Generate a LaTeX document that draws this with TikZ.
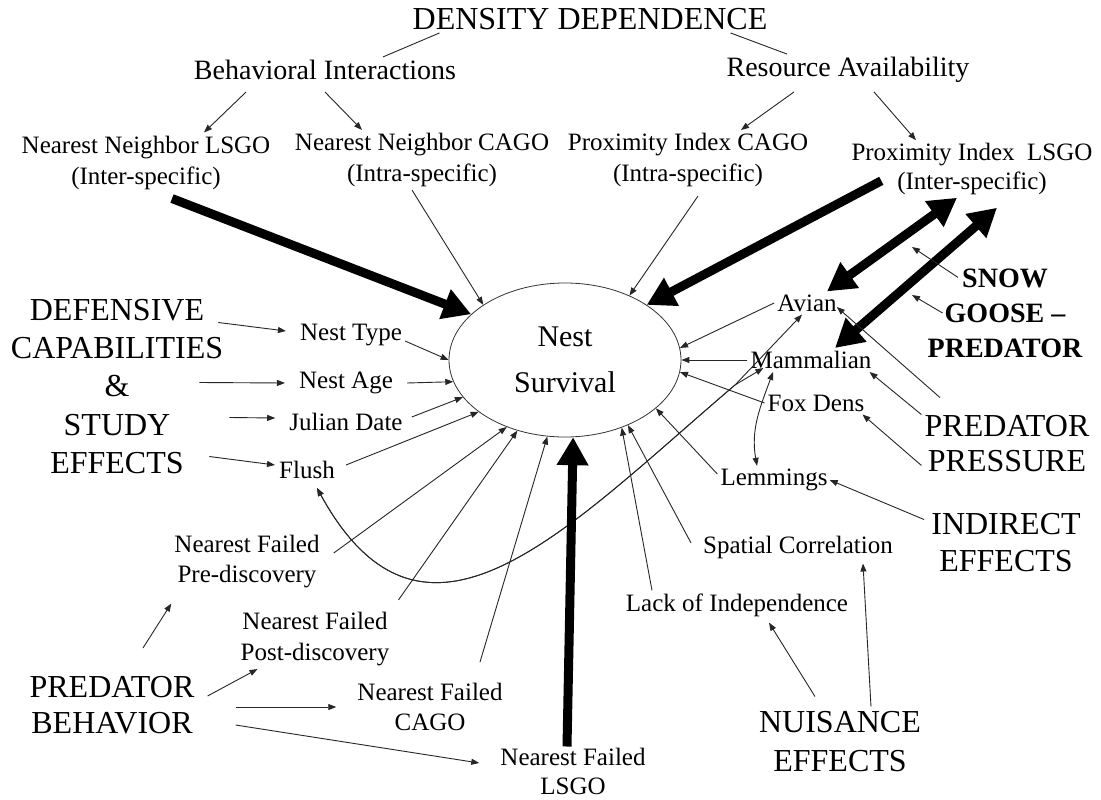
\documentclass[tikz,border=0pt]{standalone}
\usepackage{fontspec}
\setmainfont{Liberation Serif}
\usetikzlibrary{arrows.meta,shapes.geometric}
\begin{document}
\begin{tikzpicture}[x=1pt,y=-1pt,
  every node/.style={inner sep=3pt,align=center,text=black},
  capsA/.style={font=\fontsize{32}{37}\selectfont},
  medB/.style={font=\fontsize{28}{34}\selectfont},
  smlC/.style={font=\fontsize{25}{31}\selectfont},
  thinline/.style={line width=0.9pt,draw=black!85},
  thinarr/.style={thinline,-{Triangle[length=8pt,width=6pt]}},
  thinboth/.style={thinline,{Triangle[length=8pt,width=6pt]}-{Triangle[length=8pt,width=6pt]}},
  bigarrow/.style={line width=9pt,-{Triangle[length=28pt,width=30pt]}},
  bigboth/.style={line width=9pt,{Triangle[length=28pt,width=30pt]}-{Triangle[length=28pt,width=30pt]}}
]
\useasboundingbox (0,0) rectangle (1101,800);
\fill[white] (0,0) rectangle (1101,800);

% ---------- nodes ----------
\node[capsA] (dd) at (590,19) {DENSITY DEPENDENCE};
\node[medB] (bi) at (325,70) {Behavioral Interactions};
\node[medB] (ra) at (848,70) {Resource Availability};
\node[smlC] (nnl) at (146,162.5) {Nearest Neighbor LSGO\\(Inter-specific)};
\node[smlC] (nnc) at (422,160) {Nearest Neighbor CAGO\\(Intra-specific)};
\node[smlC] (pic) at (688,160) {Proximity Index CAGO\\(Intra-specific)};
\node[font=\fontsize{25}{28.5}\selectfont] (pil) at (972,169) {Proximity Index\ \ LSGO\\(Inter-specific)};

\node[draw=black!80,line width=0.8pt,ellipse,minimum width=232pt,minimum height=154pt,inner sep=0pt,
      font=\fontsize{30}{46}\selectfont] (ns) at (565,360) {Nest\\Survival};

\node[font=\fontsize{32}{38.3}\selectfont] (def) at (117,386.5) {DEFENSIVE\\CAPABILITIES\\\&\\STUDY\\EFFECTS};
\node[smlC] (ntype) at (351,335) {Nest Type};
\node[smlC] (nage) at (346,383) {Nest Age};
\node[smlC] (jdate) at (346,422) {Julian Date};
\node[smlC] (flush) at (307,470) {Flush};

\node[font=\fontsize{25}{30}\selectfont] (nfpre) at (247,562) {Nearest Failed\\Pre-discovery};
\node[smlC] (nfpost) at (315,639) {Nearest Failed\\Post-discovery};
\node[font=\fontsize{25}{30}\selectfont] (nfcago) at (430,707) {Nearest Failed\\CAGO};
\node[font=\fontsize{25}{29}\selectfont] (nflsgo) at (573,771) {Nearest Failed\\LSGO};
\node[font=\fontsize{32}{36}\selectfont] (pb) at (112,705) {PREDATOR\\BEHAVIOR};

\node[font=\fontsize{32}{39}\selectfont] (nuis) at (840,742) {NUISANCE\\EFFECTS};
\node[smlC] (loi) at (737,605) {Lack of Independence};
\node[smlC] (sc) at (798,547) {Spatial Correlation};
\node[smlC] (lem) at (774,480) {Lemmings};
\node[font=\fontsize{32}{37}\selectfont] (ie) at (1006,543) {INDIRECT\\EFFECTS};

\node[smlC] (avian) at (807,303) {Avian};
\node[smlC] (mamm) at (811,360) {Mammalian};
\node[smlC] (fox) at (816,403) {Fox Dens};
\node[font=\fontsize{28}{35}\selectfont\bfseries] (sg) at (1005,313) {SNOW\\GOOSE –\\PREDATOR};
\node[font=\fontsize{32}{35}\selectfont] (pp) at (1007,444) {PREDATOR\\PRESSURE};

\coordinate (sga) at (912,247);
\coordinate (sgb) at (912,295);
\coordinate (fk) at (735,385);

% ---------- top tree ----------
\draw[thinline] ([xshift=30pt]dd.south west) -- ([xshift=58pt]bi.north);
\draw[thinline] ([xshift=-40pt]dd.south east) -- ([xshift=-61pt]ra.north);
\draw[thinarr] ([xshift=-79pt,yshift=-9pt]bi.south) -- ([xshift=58pt]nnl.north);
\draw[thinarr] ([yshift=-9pt]bi.south) -- ([xshift=-60pt]nnc.north);
\draw[thinarr] ([xshift=-54pt,yshift=-6pt]ra.south) -- ([xshift=53pt]pic.north);
\draw[thinarr] ([xshift=26pt,yshift=-6pt]ra.south) -- ([xshift=-56pt]pil.north);

% ---------- into nest survival from top ----------
\draw[bigarrow] ([xshift=26pt,yshift=-6pt]nnl.south) -- (ns.154);
\draw[thinarr] ([xshift=-10pt]nnc.south) -- (ns.146);
\draw[thinarr] ([xshift=10pt,yshift=-6pt]pic.south) -- (ns.45);
\draw[bigarrow] ([shift={(33pt,17pt)}]pil.south west) -- (ns.34);
\draw[bigboth] ([xshift=-15pt]pil.south) -- ([xshift=20pt]avian.north);
\draw[bigboth] ([shift={(25pt,-10pt)}]pil.south) -- ([xshift=24pt]mamm.north);

% ---------- snow goose - predator ----------
\draw[thinarr] ([shift={(-47pt,-12pt)}]sg.north) -- (sga);
\draw[thinarr] ([xshift=18pt]sg.west) -- (sgb);

% ---------- predator pressure ----------
\draw[thinarr] ([shift={(-67pt,15pt)}]pp.north) -- ([shift={(-3pt,-4pt)}]avian.east);
\draw[thinarr] ([yshift=-2pt]pp.north west) -- ([xshift=-5pt]mamm.south east);
\draw[thinarr] ([yshift=10pt]pp.south west) -- ([xshift=-5pt]fox.south east);

% ---------- right side into nest survival ----------
\draw[thinarr] (avian.west) -- (ns.6);
\draw[thinarr] (mamm.west) -- (ns.0);
\draw[thinarr] (fox.west) -- (ns.354);
\draw[thinarr] ([yshift=6pt]lem.west) -- (ns.332);
\draw[thinarr] ([shift={(-4pt,-9pt)}]ie.north west) -- ([xshift=-1pt]lem.east);
\draw[thinboth] ([xshift=-38pt]mamm.south) to[out=250,in=100] ([xshift=-17pt]lem.north);

% ---------- flush <-> avian / mammalian ----------
\draw[thinboth] ([xshift=10pt,yshift=-6pt]flush.south) .. controls (425,685) and (567,528) .. (fk) -- ([xshift=-5pt]avian.south);
\draw[thinboth] ([xshift=10pt,yshift=-6pt]flush.south) .. controls (425,685) and (567,528) .. (fk) -- ([shift={(16pt,4pt)}]mamm.south west);

% ---------- defensive capabilities ----------
\draw[thinarr] ([shift={(-8pt,64pt)}]def.east) -- ([shift={(-11pt,4pt)}]ntype.west);
\draw[thinarr] ([shift={(-27pt,4pt)}]def.east) -- ([xshift=-11pt]nage.west);
\draw[thinarr] ([shift={(3pt,-31pt)}]def.east) -- ([shift={(-11pt,4pt)}]jdate.west);
\draw[thinarr] ([shift={(-17pt,-70pt)}]def.east) -- ([shift={(-1pt,5pt)}]flush.west);

\draw[thinarr] ([yshift=-6pt]ntype.east) -- (ns.180);
\draw[thinarr] ([xshift=11pt]nage.east) -- (ns.191);
\draw[thinarr] ([shift={(6pt,5pt)}]jdate.east) -- (ns.200);
\draw[thinarr] ([shift={(8pt,5pt)}]flush.east) -- (ns.211);

% ---------- nearest failed ----------
\draw[thinarr] ([shift={(11pt,9pt)}]nfpre.east) -- (ns.229);
\draw[thinarr] ([shift={(6pt,9pt)}]nfpost.north east) -- (ns.236);
\draw[thinarr] ([shift={(50pt,18pt)}]nfcago.north) -- (ns.257);
\draw[bigarrow] ([xshift=-6pt,yshift=-2pt]nflsgo.north) -- (ns.276);

% ---------- predator behavior ----------
\draw[thinarr] ([shift={(31pt,25pt)}]pb.north) -- ([yshift=-12pt]nfpre.south west);
\draw[thinarr] ([shift={(10pt,9pt)}]pb.east) -- ([xshift=20pt]nfpost.south west);
\draw[thinarr] ([shift={(38pt,-2pt)}]pb.east) -- ([xshift=-18pt]nfcago.west);
\draw[thinarr] ([shift={(38pt,-20pt)}]pb.east) -- ([shift={(-18pt,8pt)}]nflsgo.west);

% ---------- nuisance effects ----------
\draw[thinarr] ([shift={(-25pt,12pt)}]nuis.north) -- ([shift={(32pt,-3pt)}]loi.south);
\draw[thinarr] ([shift={(31pt,2pt)}]nuis.north) -- ([shift={(65pt,-2pt)}]sc.south);
\draw[thinarr] ([xshift=-85pt]loi.north) -- (ns.310);
\draw[thinarr] ([shift={(-9pt,4pt)}]sc.west) -- (ns.314);
\end{tikzpicture}
\end{document}
